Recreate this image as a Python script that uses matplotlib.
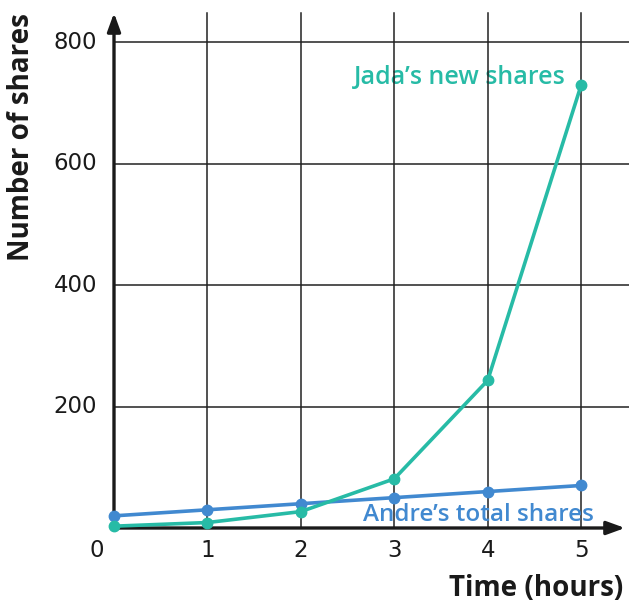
import matplotlib
matplotlib.use('Agg')
import matplotlib.pyplot as plt

# Data
hours = [0, 1, 2, 3, 4, 5]
jada_new = [3, 9, 27, 81, 243, 729]
andre_total = [20, 30, 40, 50, 60, 70]
x_ticks = [1, 2, 3, 4, 5]
y_ticks = [200, 400, 600, 800]

teal = '#27BBA6'
blue = '#4189D0'
ink = '#1a1a1a'

plt.rcParams['font.family'] = ['Open Sans', 'DejaVu Sans']
digits = ['DejaVu Sans']

fig = plt.figure(figsize=(6.29, 6.06), dpi=100)
W, H = 629, 606
x_max, y_max = 5.47, 848
ax = fig.add_axes([114 / W, (H - 528) / H, (625 - 114) / W, (528 - 13) / H])
ax.set_xlim(0, x_max)
ax.set_ylim(0, y_max)
for s in ax.spines.values():
    s.set_visible(False)

# grid
for xv in x_ticks:
    ax.plot([xv, xv], [0, y_max], color='#222222', lw=1.1, zorder=1, clip_on=False)
for yv in y_ticks:
    ax.plot([0, 5.51], [yv, yv], color='#222222', lw=1.1, zorder=1, clip_on=False)

# axes with arrows
arrow = dict(arrowstyle='-|>,head_length=1.1,head_width=0.4',
             color=ink, lw=2.4, shrinkA=0, shrinkB=0)
ax.annotate('', xy=(x_max, 0), xytext=(0, 0), arrowprops=arrow,
            annotation_clip=False, zorder=2)
ax.annotate('', xy=(0, y_max), xytext=(0, 0), arrowprops=arrow,
            annotation_clip=False, zorder=2)

ax.plot(hours, andre_total, color=blue, lw=2.6, marker='o', ms=7.5, zorder=4, clip_on=False)
ax.plot(hours, jada_new, color=teal, lw=2.6, marker='o', ms=7.5, zorder=5, clip_on=False)

ax.text(3.7, 742, 'Jada\u2019s new shares', color=teal, fontsize=18, fontweight='semibold',
        ha='center', va='center', zorder=0)
ax.text(3.9, 21, 'Andre\u2019s total shares', color=blue, fontsize=17.5, fontweight='semibold',
        ha='center', va='center', zorder=3)

ax.set_xticks([])
ax.set_yticks([])
for xv in x_ticks:
    ax.text(xv, -37, str(xv), fontsize=16.5, family=digits, ha='center', va='center', color=ink)
ax.text(-0.18, -37, '0', fontsize=16.5, family=digits, ha='center', va='center', color=ink)
for yv in y_ticks:
    ax.text(-0.18, yv, str(yv), fontsize=16.5, family=digits, ha='right', va='center', color=ink)

fig.text(22 / W, 1 - 137 / H, 'Number of shares', rotation=90, fontsize=20, fontweight='bold',
         ha='center', va='center', color=ink)
fig.text(536 / W, 1 - 588 / H, 'Time (hours)', fontsize=20, fontweight='bold',
         ha='center', va='center', color=ink)

fig.savefig('out.png', dpi=100)
